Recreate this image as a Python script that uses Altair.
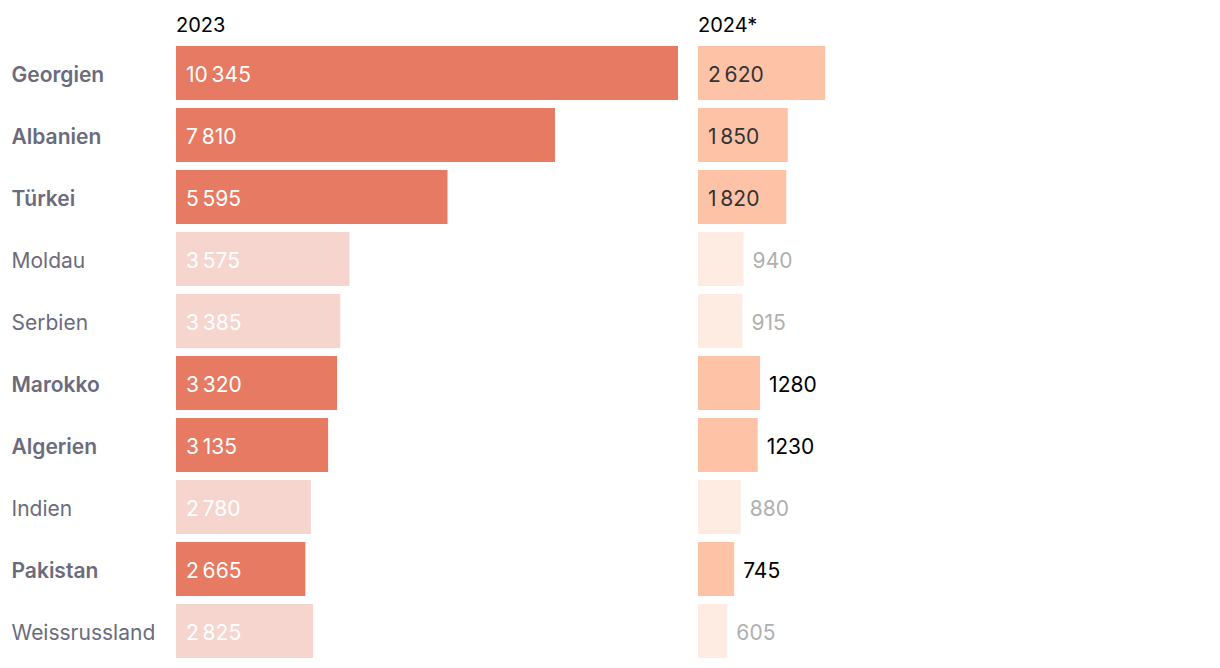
import altair as alt
import pandas as pd

countries = ["Georgien", "Albanien", "Türkei", "Moldau", "Serbien",
             "Marokko", "Algerien", "Indien", "Pakistan", "Weissrussland"]
v2023 = [10345, 7810, 5595, 3575, 3385, 3320, 3135, 2780, 2665, 2825]
v2024 = [2620, 1850, 1820, 940, 915, 1280, 1230, 880, 745, 605]
highlight = ["ja", "ja", "ja", "nein", "nein", "ja", "ja", "nein", "ja", "nein"]
years = ["2023", "2024*"]

rows = []
for i, c in enumerate(countries):
    rows.append({"land": c, "jahr": years[0], "wert": v2023[i], "hervor": highlight[i]})
    rows.append({"land": c, "jahr": years[1], "wert": v2024[i], "hervor": highlight[i]})
df = pd.DataFrame(rows)

FONT = "Inter"
FS = 21
bold_list = ",".join("'" + c + "'" for c, h in zip(countries, highlight) if h == "ja")

fmt_expr = "replace(format(datum.wert, ','), ',', '\u2009')"

yscale = alt.Scale(paddingInner=8 / 62, paddingOuter=0)
xscale = alt.Scale(nice=False, zero=True)

yaxis = alt.Axis(
    title=None, domain=False, ticks=False, tickSize=0,
    labelAlign="left", labelPadding=165, labelFontSize=FS, labelFont=FONT,
    labelColor="#6b6b7d", labelLimit=300, labelOffset=3,
    labelFontWeight={"condition": {"test": "indexof([" + bold_list + "], datum.value) >= 0",
                                   "value": 600}, "value": 400},
)


def title(t):
    return alt.TitleParams(t, anchor="start", frame="group", fontSize=20,
                           fontWeight="normal", color="black", font=FONT, offset=10)


def panel(year, first):
    base = alt.Chart(df).transform_filter(alt.datum.jahr == year).transform_calculate(
        lbl=fmt_expr, raw="toString(datum.wert)")
    y = alt.Y("land:N", sort=countries, scale=yscale, axis=yaxis if first else None)
    if first:
        colors = ["#e67a62", "#f6d5cf"]
    else:
        colors = ["#fec3a6", "#feebe2"]
    bars = base.mark_bar().encode(
        x=alt.X("wert:Q", axis=None, scale=xscale),
        y=y,
        color=alt.Color("hervor:N", scale=alt.Scale(domain=["ja", "nein"], range=colors), legend=None),
    )
    if first:
        txt = base.mark_text(align="left", baseline="middle", dx=10, dy=3, fontSize=FS, font=FONT,
                             color="white").encode(x=alt.datum(0), y=y, text="lbl:N")
        return (bars + txt).properties(width=502, height=612, title=title(year))
    inside = base.transform_filter("datum.wert >= 1500").mark_text(
        align="left", baseline="middle", dx=10, dy=3, fontSize=FS, font=FONT, color="#333333"
    ).encode(x=alt.datum(0), y=y, text="lbl:N")
    outside = base.transform_filter("datum.wert < 1500").mark_text(
        align="left", baseline="middle", dx=9, dy=3, fontSize=FS, font=FONT
    ).encode(
        x="wert:Q", y=y, text="raw:N",
        color=alt.condition(alt.datum.hervor == "ja", alt.value("black"), alt.value("#b0b0b0")),
    )
    return (bars + inside + outside).properties(width=502, height=612, title=title(year))


chart = alt.hconcat(panel(years[0], True), panel(years[1], False), spacing=20).resolve_scale(
    x="shared", y="shared", color="independent"
).properties(
    padding={"left": 3, "top": 8, "right": 5, "bottom": 2}
).configure(font=FONT, view=alt.ViewConfig(stroke=None))

chart.save("out.html", embed_options={"renderer": "svg", "actions": False})
